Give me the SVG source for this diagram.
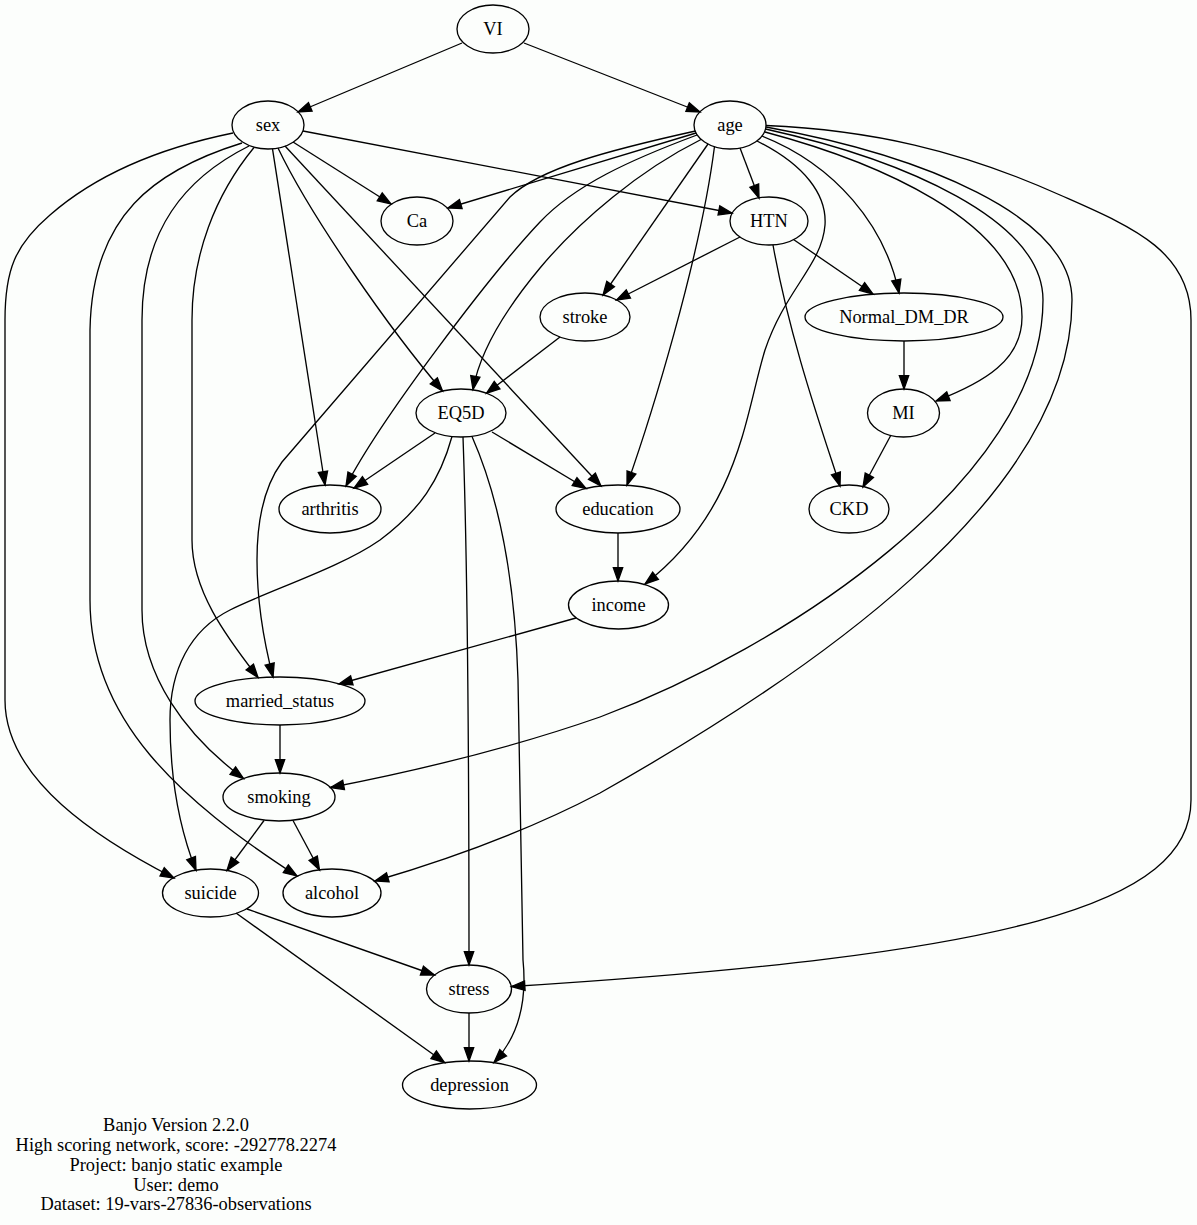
<svg xmlns="http://www.w3.org/2000/svg" width="1197" height="1225" viewBox="0 0 1197 1225">
<style>
.n ellipse{fill:none;stroke:#000;stroke-width:1.33}
.n text,.lbl{font-family:"Liberation Serif","Times New Roman",serif;font-size:18.4px;fill:#000;text-anchor:middle}
#edges path{fill:none;stroke:#000;stroke-width:1.33;marker-end:url(#ah)}
</style>
<defs>
<marker id="ah" markerUnits="userSpaceOnUse" markerWidth="16" markerHeight="12" refX="13.33" refY="4.67" orient="auto" overflow="visible">
<path d="M0,0 L13.33,4.67 L0,9.33 Z" fill="#000" stroke="#000" stroke-width="1.33" stroke-linejoin="miter"/>
</marker>
</defs>
<rect width="1197" height="1225" fill="#fcfefc"/>
<g id="edges">
<path d="M462,43 L298,112"/>
<path d="M524,43 L700,112"/>
<path d="M293,142 L391,204"/>
<path d="M303,131 L732,213"/>
<path d="M278,148 C310,215 390,330 442.5,391"/>
<path d="M285,146 L601,486"/>
<path d="M272.5,148.8 L325,485"/>
<path d="M254,147.5 C215,195 192,255 192,320 L192,540 C192,590 225,635 258,677.5"/>
<path d="M249,146 C185,178 142,230 142,320 L142,610 C142,675 185,735 243.5,778.5"/>
<path d="M242,143 C155,170 92,215 90,330 L90,600 C90,720 180,800 297,876"/>
<path d="M233,133 C150,150 90,180 50,215 C15,245 5,270 5,320 L5,700 C5,780 100,840 174,878"/>
<path d="M696,133 L448,208"/>
<path d="M740,148 L759,198"/>
<path d="M695.5,131 C610,150 540,168 510,197 L282,462 C265,485 257,520 257,560 C257,610 266,650 273,677"/>
<path d="M697,135 C630,160 575,185 540,222 C490,275 380,420 346,486"/>
<path d="M701,139.5 C640,170 580,220 540,268 C505,310 480,350 473,389.5"/>
<path d="M708,144 L603,295"/>
<path d="M714.5,146.5 C700,260 650,420 627,485"/>
<path d="M757,141 C805,165 827,195 825,225 C822,265 785,290 765,350 C745,415 740,510 645,584"/>
<path d="M762,136 C835,165 885,225 899,293"/>
<path d="M765,132 C870,160 1022,220 1022,317 C1022,360 985,382 936,401"/>
<path d="M765.5,129 C905,160 1043,220 1043,300 C1043,480 780,650 600,717 C500,752 400,774 330.5,787.5"/>
<path d="M766,127 C920,155 1072,215 1072,300 C1072,500 800,680 600,793 C520,835 440,862 375,881"/>
<path d="M766,125.5 C870,130 960,150 1060,195 C1130,226 1191,250 1191,320 L1191,800 C1191,905 1010,955 511.5,986.5"/>
<path d="M740,237 L616.5,300"/>
<path d="M793.5,239.5 L873,294"/>
<path d="M773,245 C790,340 822,430 840,486"/>
<path d="M904,341 L904,389"/>
<path d="M891,435 L863,487"/>
<path d="M560,337 L486.5,393.3"/>
<path d="M435,433 L354,488"/>
<path d="M492,432 L586,488.5"/>
<path d="M452,436.5 C440,480 420,510 380,540 C340,568 270,590 230,610 C190,630 170,670 170,720 C170,780 180,830 196,870.5"/>
<path d="M463,437 C466,520 469,700 469,965"/>
<path d="M472,436.5 C500,500 515,580 518,680 L523,960 C527,1000 520,1035 494,1062.5"/>
<path d="M618,533 L618,581"/>
<path d="M576,618 L339,684"/>
<path d="M280,725 L280,773"/>
<path d="M264,820.5 L227,870.5"/>
<path d="M293,820.5 L319.5,870"/>
<path d="M247,909 L434.5,975"/>
<path d="M236,913 L444.5,1062.5"/>
<path d="M469,1013 L469,1061"/>
</g>
<g id="VI" class="n"><ellipse cx="493" cy="29" rx="36" ry="24"/><text x="493" y="35">VI</text></g>
<g id="sex" class="n"><ellipse cx="268" cy="125" rx="36" ry="24"/><text x="268" y="131">sex</text></g>
<g id="age" class="n"><ellipse cx="730" cy="125" rx="36" ry="24"/><text x="730" y="131">age</text></g>
<g id="Ca" class="n"><ellipse cx="417" cy="221" rx="36" ry="24"/><text x="417" y="227">Ca</text></g>
<g id="HTN" class="n"><ellipse cx="769" cy="221" rx="39" ry="24"/><text x="769" y="227">HTN</text></g>
<g id="stroke" class="n"><ellipse cx="585" cy="317" rx="45" ry="24"/><text x="585" y="323">stroke</text></g>
<g id="Normal_DM_DR" class="n"><ellipse cx="904" cy="317" rx="99" ry="24"/><text x="904" y="323">Normal_DM_DR</text></g>
<g id="EQ5D" class="n"><ellipse cx="461" cy="413" rx="45" ry="24"/><text x="461" y="419">EQ5D</text></g>
<g id="MI" class="n"><ellipse cx="903.5" cy="413" rx="36" ry="24"/><text x="903.5" y="419">MI</text></g>
<g id="arthritis" class="n"><ellipse cx="330" cy="509" rx="51" ry="24"/><text x="330" y="515">arthritis</text></g>
<g id="education" class="n"><ellipse cx="618" cy="509" rx="62" ry="24"/><text x="618" y="515">education</text></g>
<g id="CKD" class="n"><ellipse cx="849" cy="509" rx="40" ry="24"/><text x="849" y="515">CKD</text></g>
<g id="income" class="n"><ellipse cx="618.5" cy="605" rx="50" ry="24"/><text x="618.5" y="611">income</text></g>
<g id="married_status" class="n"><ellipse cx="280" cy="701" rx="85" ry="24"/><text x="280" y="707">married_status</text></g>
<g id="smoking" class="n"><ellipse cx="279" cy="797" rx="56" ry="24"/><text x="279" y="803">smoking</text></g>
<g id="suicide" class="n"><ellipse cx="210.5" cy="893" rx="48" ry="24"/><text x="210.5" y="899">suicide</text></g>
<g id="alcohol" class="n"><ellipse cx="332" cy="893" rx="49" ry="24"/><text x="332" y="899">alcohol</text></g>
<g id="stress" class="n"><ellipse cx="469" cy="989" rx="42.5" ry="24"/><text x="469" y="995">stress</text></g>
<g id="depression" class="n"><ellipse cx="469.5" cy="1085" rx="67" ry="24"/><text x="469.5" y="1091">depression</text></g>
<g id="caption">
<text class="lbl" x="176" y="1131">Banjo Version 2.2.0</text>
<text class="lbl" x="176" y="1151">High scoring network, score: -292778.2274</text>
<text class="lbl" x="176" y="1170.5">Project: banjo static example</text>
<text class="lbl" x="176" y="1190.5">User: demo</text>
<text class="lbl" x="176" y="1210">Dataset: 19-vars-27836-observations</text>
</g>
</svg>
